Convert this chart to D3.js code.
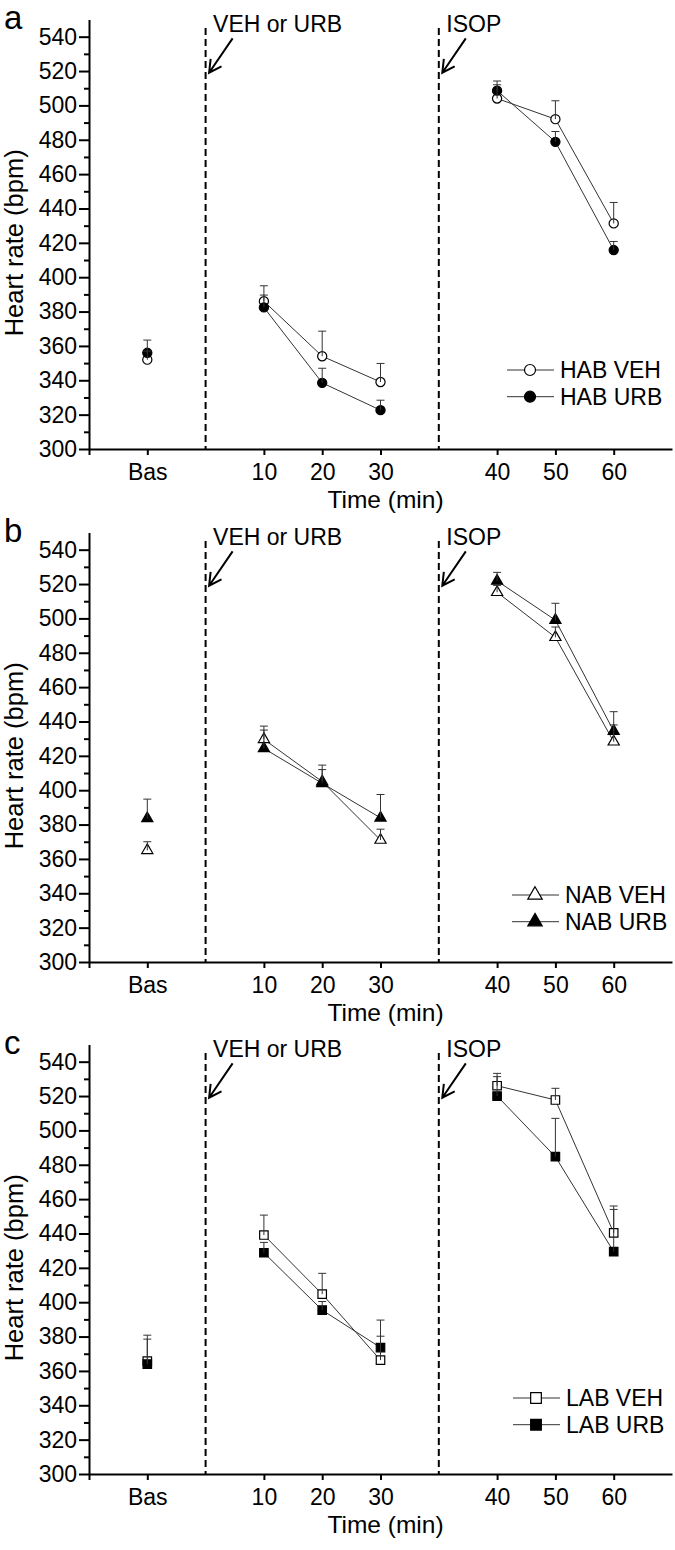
<!DOCTYPE html>
<html>
<head>
<meta charset="utf-8">
<script src="https://cdn.jsdelivr.net/npm/d3@7"></script>
<style>
body { margin: 0; background: #fff; }
svg { display: block; font-family: "Liberation Sans", Arial, sans-serif; }
</style>
</head>
<body>
<div id="graphHolder"></div>
<script>
// x slots: the blank ones hold the y axis, the two injections and the axis end
var timeLabels = ["Bas", "10", "20", "30", "40", "50", "60"];
var slots = ["start", "Bas", "inj", "10", "20", "30", "isop", "40", "50", "60", "end"];
var segments = [["10", "20", "30"], ["40", "50", "60"]];
var events = [{slot: "inj", label: "VEH or URB"}, {slot: "isop", label: "ISOP"}];

var yTicks = [300, 320, 340, 360, 380, 400, 420, 440, 460, 480, 500, 520, 540];
var yMinor = [310, 330, 350, 370, 390, 410, 430, 450, 470, 490, 510, 530];

var panelNames = ["a", "b", "c"];
var groupNames = ["HAB", "NAB", "LAB"];
var treatments = ["VEH", "URB"];

// mean heart rate (bpm) and SEM
var habVeh = [352, 386, 354, 339, 504, 492, 431.3];
var habVehSem = [5, 9, 14.6, 10.8, 8, 10.7, 12.2];
var habUrb = [356, 382.4, 338.5, 322.6, 508.6, 478.8, 415.8];
var habUrbSem = [7.4, 7.2, 8.5, 5.8, 5.6, 6, 5];

var nabVeh = [365, 429.6, 405, 371, 515.2, 489, 428.2];
var nabVehSem = [5, 5.4, 7, 6.3, 4, 6, 9.8];
var nabUrb = [383.6, 424.3, 404, 383.9, 521.8, 499, 434.4];
var nabUrbSem = [11.2, 13, 10.6, 13.6, 5, 9.8, 11.3];

var labVeh = [365.7, 439.1, 404.7, 366.3, 526, 517.7, 440.4];
var labVehSem = [15.1, 11.6, 12.1, 13.9, 7.2, 6.8, 15.6];
var labUrb = [364, 428.8, 395.4, 373.6, 520, 484.7, 429.4];
var labUrbSem = [14.5, 6, 5, 16, 11.3, 22.3, 24.6];

var panelData = [
    [{mean: habVeh, sem: habVehSem}, {mean: habUrb, sem: habUrbSem}],
    [{mean: nabVeh, sem: nabVehSem}, {mean: nabUrb, sem: nabUrbSem}],
    [{mean: labVeh, sem: labVehSem}, {mean: labUrb, sem: labUrbSem}]
];

var graphWidth = 675;
var graphHeight = 1550;
var panelTop = [0, 513, 1025];
var legendPos = [[507, 370], [512, 382], [513, 373]];
var shapes = [d3.symbolCircle, d3.symbolTriangle, d3.symbolSquare];
var markSize = [66, 54, 72];
var legendSize = [95, 90, 114];

var svg = d3.select("#graphHolder")
        .append("svg")
        .attr("width", graphWidth)
        .attr("height", graphHeight);

var x = d3.scalePoint()
        .domain(slots)
        .range([89, 672]);

var y = d3.scaleLinear()
        .domain([300, 550])
        .range([449, 19.5]);

function drawPanel(p) {
    var g = svg.append("g")
            .attr("transform", "translate(0," + panelTop[p] + ")");

    // dashed event lines, labels and arrows
    events.forEach(function (ev) {
        var ex = x(ev.slot);
        g.append("line")
                .attr("x1", ex).attr("x2", ex)
                .attr("y1", y(545)).attr("y2", y(300))
                .attr("stroke", "#000")
                .attr("stroke-width", 2)
                .attr("stroke-dasharray", "7,4");
        g.append("text")
                .attr("x", ex + 7.5)
                .attr("y", y(542.5))
                .attr("font-size", 23)
                .text(ev.label);
        var x0 = ex + 27, y0 = y(539), x1 = ex + 3.5, y1 = y(519);
        var back = Math.atan2(y0 - y1, x0 - x1);
        var len = 14, spread = 28 * Math.PI / 180;
        var a1 = back - spread, a2 = back + spread;
        g.append("path")
                .attr("d", "M" + x0 + "," + y0 + "L" + x1 + "," + y1 +
                        "M" + (x1 + len * Math.cos(a1)) + "," + (y1 + len * Math.sin(a1)) +
                        "L" + x1 + "," + y1 +
                        "L" + (x1 + len * Math.cos(a2)) + "," + (y1 + len * Math.sin(a2)))
                .attr("fill", "none")
                .attr("stroke", "#000")
                .attr("stroke-width", 2);
    });

    // axes
    g.append("g")
            .attr("transform", "translate(" + x("start") + ",0)")
            .call(d3.axisLeft(y).tickValues(yTicks).tickSize(10).tickPadding(2).tickSizeOuter(0));
    g.append("g")
            .attr("transform", "translate(" + x("start") + ",0)")
            .call(d3.axisLeft(y).tickValues(yMinor).tickSize(5).tickFormat(""))
            .select(".domain").remove();

    g.append("g")
            .attr("transform", "translate(0," + y(300) + ")")
            .call(d3.axisBottom(x)
                    .tickValues(["start"].concat(timeLabels))
                    .tickFormat(function (d) { return d === "start" ? "" : d; })
                    .tickSize(6).tickPadding(9).tickSizeOuter(0));

    g.selectAll(".domain, .tick line")
            .attr("stroke", "#000")
            .attr("stroke-width", 2);
    g.selectAll(".tick text")
            .attr("fill", "#000")
            .attr("font-size", 23)
            .attr("font-family", "Liberation Sans, Arial, sans-serif");

    g.append("text")
            .attr("transform", "translate(23," + (y(300) + y(540)) / 2 + ") rotate(-90)")
            .attr("text-anchor", "middle")
            .attr("font-size", 25.5)
            .text("Heart rate (bpm)");

    g.append("text")
            .attr("x", (x("start") + x("end")) / 2 + 5)
            .attr("y", y(300) + 58.5)
            .attr("text-anchor", "middle")
            .attr("font-size", 24.5)
            .text("Time (min)");

    g.append("text")
            .attr("x", 4)
            .attr("y", 29)
            .attr("font-size", 33)
            .text(panelNames[p]);

    // series
    var series = panelData[p];
    var line = d3.line()
            .x(function (d) { return x(d.t); })
            .y(function (d) { return y(d.v); });

    series.forEach(function (s) {
        segments.forEach(function (seg) {
            var pts = seg.map(function (t) {
                return {t: t, v: s.mean[timeLabels.indexOf(t)]};
            });
            g.append("path")
                    .datum(pts)
                    .attr("fill", "none")
                    .attr("stroke", "#333")
                    .attr("stroke-width", 1)
                    .attr("d", line);
        });
    });

    var sym = d3.symbol().type(shapes[p]).size(markSize[p]);
    series.forEach(function (s, k) {
        g.selectAll(null)
                .data(s.mean)
                .enter().append("path")
                .attr("transform", function (d, i) {
                    return "translate(" + x(timeLabels[i]) + "," + y(d) + ")";
                })
                .attr("d", sym)
                .attr("fill", k === 0 ? "#fff" : "#000")
                .attr("stroke", "#000")
                .attr("stroke-width", 1.2);
    });

    series.forEach(function (s) {
        var eb = g.selectAll(null)
                .data(s.mean)
                .enter().append("g")
                .attr("stroke", "#333")
                .attr("stroke-width", 1);
        eb.append("line")
                .attr("x1", function (d, i) { return x(timeLabels[i]); })
                .attr("x2", function (d, i) { return x(timeLabels[i]); })
                .attr("y1", function (d) { return y(d); })
                .attr("y2", function (d, i) { return y(d + s.sem[i]); });
        eb.append("line")
                .attr("x1", function (d, i) { return x(timeLabels[i]) - 4; })
                .attr("x2", function (d, i) { return x(timeLabels[i]) + 4; })
                .attr("y1", function (d, i) { return y(d + s.sem[i]); })
                .attr("y2", function (d, i) { return y(d + s.sem[i]); });
    });

    // legend
    var lx = legendPos[p][0], ly = legendPos[p][1];
    var lsym = d3.symbol().type(shapes[p]).size(legendSize[p]);
    treatments.forEach(function (tr, k) {
        var ry = ly + k * 26.7;
        g.append("line")
                .attr("x1", lx).attr("x2", lx + 47)
                .attr("y1", ry).attr("y2", ry)
                .attr("stroke", "#333")
                .attr("stroke-width", 1);
        g.append("path")
                .attr("transform", "translate(" + (lx + 23) + "," + ry + ")")
                .attr("d", lsym)
                .attr("fill", k === 0 ? "#fff" : "#000")
                .attr("stroke", "#000")
                .attr("stroke-width", 1.2);
        g.append("text")
                .attr("x", lx + 53)
                .attr("y", ry + 8.2)
                .attr("font-size", 23)
                .text(groupNames[p] + " " + tr);
    });
}

panelNames.forEach(function (n, p) {
    drawPanel(p);
});
</script>
</body>
</html>
